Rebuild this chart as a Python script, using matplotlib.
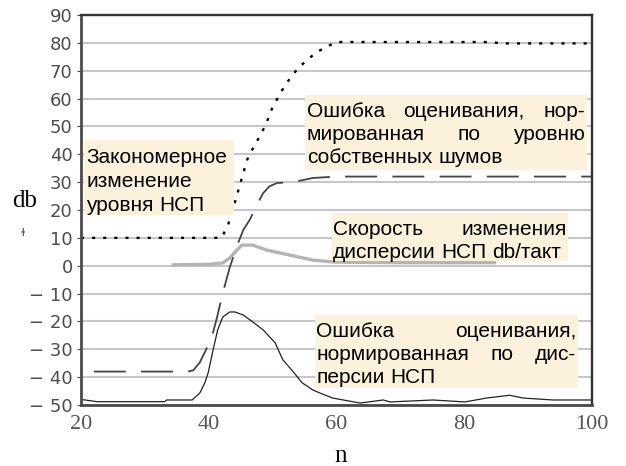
import matplotlib
matplotlib.use("Agg")
import matplotlib.pyplot as plt
from matplotlib.patches import Rectangle
from matplotlib.ticker import FixedLocator, FixedFormatter

# noise-normalised estimation error (dotted)
n_noise = [20, 42, 43, 44, 45, 46, 47, 48, 49, 50, 51, 52, 53, 54, 55, 56, 57, 58, 59, 60, 84, 86, 100]
v_noise = [10, 10, 14.5, 22, 30, 38, 42.5, 46.5, 51, 57, 61, 65, 68, 71, 73, 75, 76.8, 78, 79.2, 80.3,
           80.3, 79.8, 79.8]

# regular change of the level (dashed)
n_level = [22, 34, 36.8, 37.6, 38.6, 39.4, 40.5, 41.3, 42.2, 43.3, 44.4, 45.4, 46.4, 47.7,
           48.5, 49.5, 50.7, 53.2, 56.3, 60, 100]
v_level = [-38, -38, -38, -37.5, -34.7, -31, -25.5, -18.5, -9.8, -0.5, 7, 12.8, 16.4, 22.5,
           26, 28.5, 29.7, 30, 31.5, 32, 32]

# rate of dispersion change, db/tact (thick grey)
n_rate = [34.2, 40, 42.2, 43.3, 44.4, 45.2, 46.9, 49.1, 52.7, 56.3, 59.7, 70, 85]
v_rate = [0.3, 0.5, 1, 2.8, 5.6, 7.4, 7.4, 5.6, 3.8, 2, 1.3, 1.1, 1.1]

# dispersion-normalised estimation error (solid)
n_disp = [20, 22.5, 33.1, 33.4, 37.4, 38.6, 39.4, 39.9, 40.7, 41.4, 42.2, 43.3, 44.1, 45.4,
          46.9, 48.5, 50.4, 51.6, 53.2, 54.6, 56.3, 57.4, 59.4, 63.7, 67.3, 68.4, 75.1,
          80.1, 83.5, 87.1, 89.2, 93.9, 100]
v_disp = [-48, -48.8, -48.8, -48.2, -48.2, -45.7, -42, -38.5, -30, -23, -18.4, -16.6, -16.6,
          -17.7, -20.2, -23, -27.7, -33.8, -38, -42, -44.6, -45.7, -47.5, -49.3, -48.2, -48.9,
          -48.2, -48.9, -47.5, -46.5, -47.5, -48.2, -48.2]

y_ticks = [-50, -40, -30, -20, -10, 0, 10, 20, 30, 40, 50, 60, 70, 80, 90]
y_labels = ["\u2212 50", "\u2212 40", "\u2212 30", "\u2212 20", "\u2212 10", "0",
            "10", "20", "30", "40", "50", "60", "70", "80", "90"]
x_ticks = [20, 40, 60, 80, 100]

W, H = 626, 466
BOX = "#fcf2dc"
GRID = "#c6c6cc"
FONT = ["Liberation Sans", "DejaVu Sans"]
plt.rcParams["lines.scale_dashes"] = False

fig = plt.figure(figsize=(W / 100, H / 100), dpi=100)
ax = fig.add_axes([81 / W, 1 - 405 / H, 511 / W, 390 / H])

ax.plot(n_noise, v_noise, color="black", lw=1.7, ls=(0, (2.2, 5.8)))
ax.plot(n_level, v_level, color="#444444", lw=1.3, ls=(0, (23, 11)))
ax.plot(n_rate, v_rate, color="#b4b4b4", lw=2.4, solid_capstyle="butt")
ax.plot(n_disp, v_disp, color="#222222", lw=0.9)

ax.set_xlim(20, 100)
ax.set_ylim(-50, 90)
ax.xaxis.set_major_locator(FixedLocator(x_ticks))
ax.yaxis.set_major_locator(FixedLocator(y_ticks))
ax.yaxis.set_major_formatter(FixedFormatter(y_labels))
ax.set_xticks([40, 60, 80], minor=True)
ax.grid(True, axis="y", which="major", color=GRID, lw=1.5)
ax.grid(True, axis="x", which="minor", color=GRID, lw=1.5)
ax.set_axisbelow(True)
ax.tick_params(axis="x", which="both", length=0, pad=7, labelsize=16, labelcolor="#555555")
ax.tick_params(axis="y", length=3, pad=3, color="#444444", labelsize=13, labelcolor="#4d4d4d")
for t in ax.get_xticklabels():
    t.set_family("Liberation Serif")
for t in ax.get_yticklabels():
    t.set_family("DejaVu Sans")
for side in ["left", "bottom"]:
    ax.spines[side].set_linewidth(2.0)
    ax.spines[side].set_color("#4a4a4a")
for side in ["top", "right"]:
    ax.spines[side].set_linewidth(1.7)
    ax.spines[side].set_color("#333333")


def px_text(x, y, s, **kw):
    return fig.text(x / W, 1 - y / H, s, **kw)


px_text(12, 207, "db", family="Liberation Serif", fontsize=18, va="baseline")
px_text(341, 462, "n", family="Liberation Serif", fontsize=18, va="baseline", ha="center")
px_text(23, 236, "\u026b", family="DejaVu Sans", fontsize=8, va="baseline", ha="center", color="#444444")


def add_box(x0, x1, y0, y1):
    fig.add_artist(Rectangle((x0 / W, 1 - y1 / H), (x1 - x0) / W, (y1 - y0) / H,
                             transform=fig.transFigure, facecolor=BOX, edgecolor="none", zorder=2))


def add_block(lines, left, right, base0, step, size=15):
    renderer = fig.canvas.get_renderer()
    space = px_text(0, 0, "a a", fontsize=size, family=FONT)
    a = px_text(0, 0, "aa", fontsize=size, family=FONT)
    sp = space.get_window_extent(renderer).width - a.get_window_extent(renderer).width
    space.remove()
    a.remove()
    for i, (words, justify) in enumerate(lines):
        y = base0 + i * step
        items = [px_text(0, y, w, fontsize=size, family=FONT, va="baseline", zorder=5) for w in words]
        widths = [t.get_window_extent(renderer).width for t in items]
        gap = sp
        if justify and len(items) > 1:
            gap = (right - left - sum(widths)) / (len(items) - 1)
        x = left
        for t, w in zip(items, widths):
            t.set_x(x / W)
            x += w + gap


fig.canvas.draw()

add_box(84, 234, 140, 215)
add_block([(["Закономерное"], False), (["изменение"], False), (["уровня", "НСП"], False)],
          86, 232, 163, 24)

add_box(305, 587, 95, 170)
add_block([(["Ошибка", "оценивания,", "нор-"], True),
           (["мированная", "по", "уровню"], True),
           (["собственных", "шумов"], False)],
          307, 585, 117, 23)

add_box(332, 568, 213, 261)
add_block([(["Скорость", "изменения"], True),
           (["дисперсии", "НСП", "db/такт"], False)],
          333, 567, 235, 23)

add_box(315, 578, 315, 388)
add_block([(["Ошибка", "оценивания,"], True),
           (["нормированная", "по", "дис-"], True),
           (["персии", "НСП"], False)],
          316, 576, 337, 23)

fig.savefig("out.png", dpi=100)
